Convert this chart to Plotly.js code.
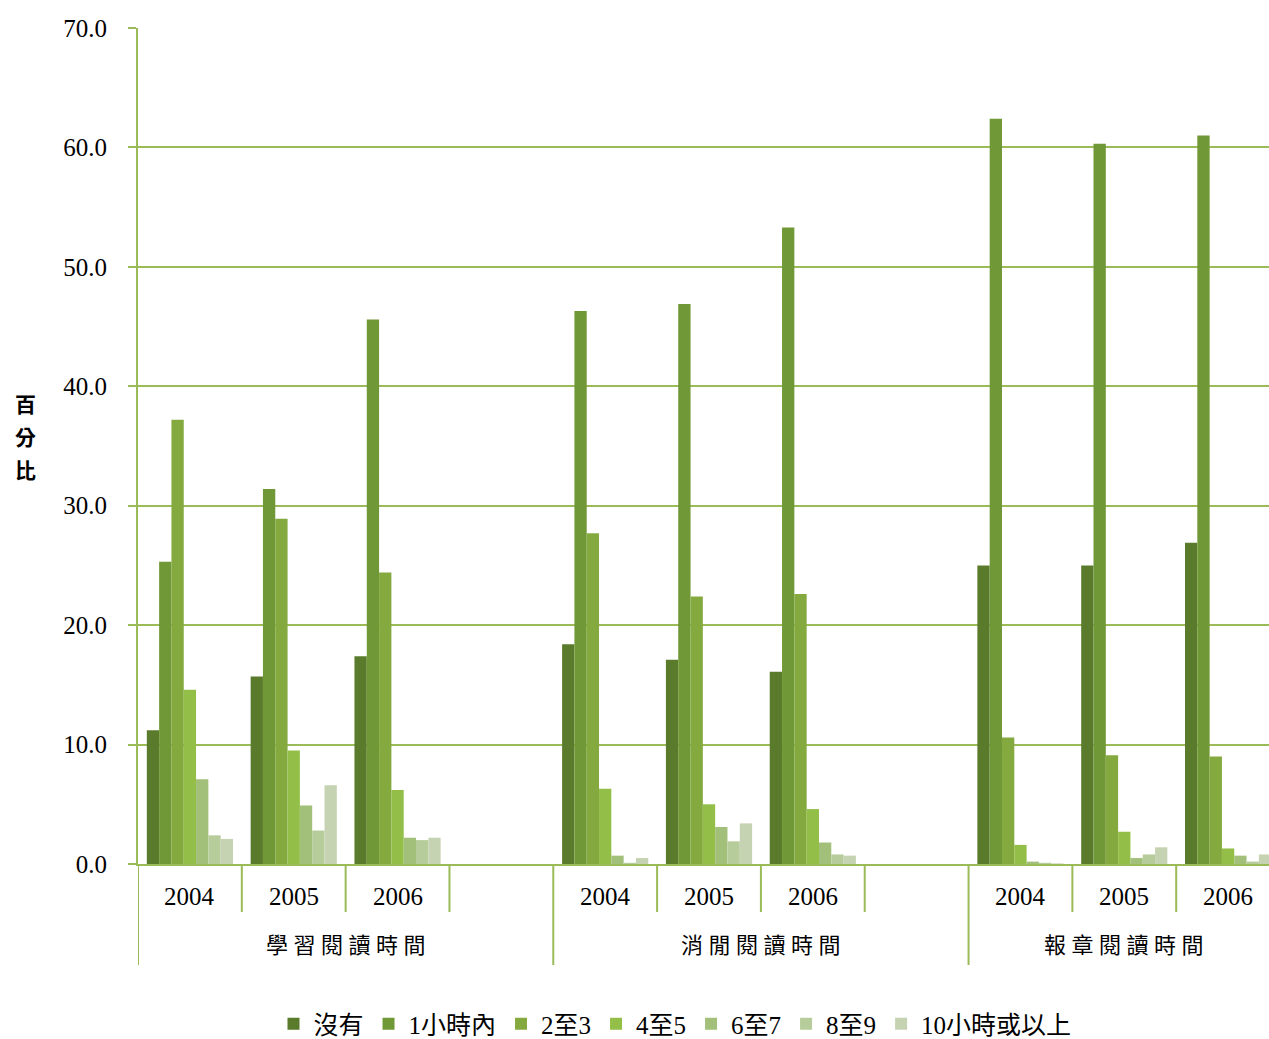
<!DOCTYPE html>
<html>
<head>
<meta charset="utf-8">
<script src="https://cdn.plot.ly/plotly-3.0.1.min.js"></script>
<style>
html,body{margin:0;padding:0;background:#fff;}
#chart{width:1269px;height:1039px;}
</style>
</head>
<body>
<div id="chart"></div>
<script>
// slot positions: 0-2 學習, 4-6 消閒, 8-10 報章 (3 and 7 are empty spacer slots)
var slots = [0, 1, 2, 4, 5, 6, 8, 9, 10];
var yearLabels = ['2004', '2005', '2006', '2004', '2005', '2006', '2004', '2005', '2006'];
var groupLabels = ['學習閱讀時間', '消閒閱讀時間', '報章閱讀時間'];
var groupCenters = [1.5, 5.5, 9];
var yTitleChars = ['百', '分', '比'];
var seriesNames = ['沒有', '1小時內', '2至3', '4至5', '6至7', '8至9', '10小時或以上'];

var s_none   = [11.2, 15.7, 17.4, 18.4, 17.1, 16.1, 25.0, 25.0, 26.9];
var s_lt1    = [25.3, 31.4, 45.6, 46.3, 46.9, 53.3, 62.4, 60.3, 61.0];
var s_2to3   = [37.2, 28.9, 24.4, 27.7, 22.4, 22.6, 10.6, 9.1, 9.0];
var s_4to5   = [14.6, 9.5, 6.2, 6.3, 5.0, 4.6, 1.6, 2.7, 1.3];
var s_6to7   = [7.1, 4.9, 2.2, 0.7, 3.1, 1.8, 0.2, 0.5, 0.7];
var s_8to9   = [2.4, 2.8, 2.0, 0.1, 1.9, 0.8, 0.1, 0.8, 0.2];
var s_10plus = [2.1, 6.6, 2.2, 0.5, 3.4, 0.7, 0.05, 1.4, 0.8];

var seriesValues = [s_none, s_lt1, s_2to3, s_4to5, s_6to7, s_8to9, s_10plus];
var seriesColors = ['#5b7b2c', '#719836', '#84aa3f', '#93bf48', '#a3c07a', '#b6cc9a', '#c6d3b3'];

var FONT = '"Liberation Serif", "Times New Roman", "Noto Sans CJK TC", serif';
var GREEN = '#9bbb59';

var traces = seriesNames.map(function (n, i) {
  return {
    type: 'bar',
    name: n,
    x: slots,
    y: seriesValues[i],
    marker: {color: seriesColors[i], line: {width: 0}},
    hoverinfo: 'name+y'
  };
});

// paper y for a pixel row: plot spans y=28..864
function py(p) { return (864 - p) / 836; }

var shapes = [];
var bounds = [-0.5, 0.5, 1.5, 2.5, 3.5, 4.5, 5.5, 6.5, 7.5, 8.5, 9.5];
var longB = {'-0.5': 1, '3.5': 1, '7.5': 1};
bounds.forEach(function (b) {
  shapes.push({
    type: 'line', xref: 'x', yref: 'paper',
    x0: b, x1: b, y0: 0, y1: longB[String(b)] ? py(965) : py(912),
    line: {color: GREEN, width: 2}
  });
});

var annotations = [];
slots.forEach(function (s, i) {
  annotations.push({
    xref: 'x', yref: 'paper', x: s, y: py(896), text: yearLabels[i],
    showarrow: false, xanchor: 'center', yanchor: 'middle',
    font: {family: FONT, size: 25, color: '#000'}
  });
});
groupLabels.forEach(function (g, i) {
  annotations.push({
    xref: 'x', yref: 'paper', x: groupCenters[i], y: py(946),
    text: g.split('').join(' '),
    showarrow: false, xanchor: 'center', yanchor: 'middle',
    font: {family: FONT, size: 22, color: '#000'}
  });
});
yTitleChars.forEach(function (c, i) {
  annotations.push({
    xref: 'paper', yref: 'paper', x: (25 - 138) / 1131, y: py(405 + 33 * i),
    text: '<b>' + c + '</b>',
    showarrow: false, xanchor: 'center', yanchor: 'middle',
    font: {family: FONT, size: 21, color: '#000'}
  });
});

var layout = {
  width: 1269, height: 1039,
  margin: {l: 138, r: 0, t: 28, b: 175, pad: 0},
  paper_bgcolor: '#ffffff', plot_bgcolor: '#ffffff',
  barmode: 'group', bargap: 0.17, bargroupgap: 0,
  font: {family: FONT, size: 25, color: '#000'},
  showlegend: true,
  legend: {
    orientation: 'h', x: (675 - 138) / 1131, xanchor: 'center',
    yref: 'container', y: (1039 - 1024) / 1039, yanchor: 'middle',
    font: {family: FONT, size: 25, color: '#000'},
    itemwidth: 30, tracegroupgap: 0, traceorder: 'normal',
    borderwidth: 0
  },
  xaxis: {
    range: [-0.5, 10.394], showticklabels: false, ticks: '',
    showgrid: false, zeroline: false,
    showline: true, linecolor: GREEN, linewidth: 2, fixedrange: true
  },
  yaxis: {
    range: [0, 70], dtick: 10, tick0: 0, tickformat: '.1f',
    showgrid: true, gridcolor: GREEN, gridwidth: 2,
    zeroline: false, showline: true, linecolor: GREEN, linewidth: 2,
    ticks: 'outside', ticklen: 8, tickcolor: GREEN, tickwidth: 2,
    ticklabelstandoff: 16,
    tickfont: {family: FONT, size: 25, color: '#000'}, fixedrange: true
  },
  shapes: shapes,
  annotations: annotations
};

Plotly.newPlot('chart', traces, layout, {displayModeBar: false, staticPlot: true});
</script>
</body>
</html>
